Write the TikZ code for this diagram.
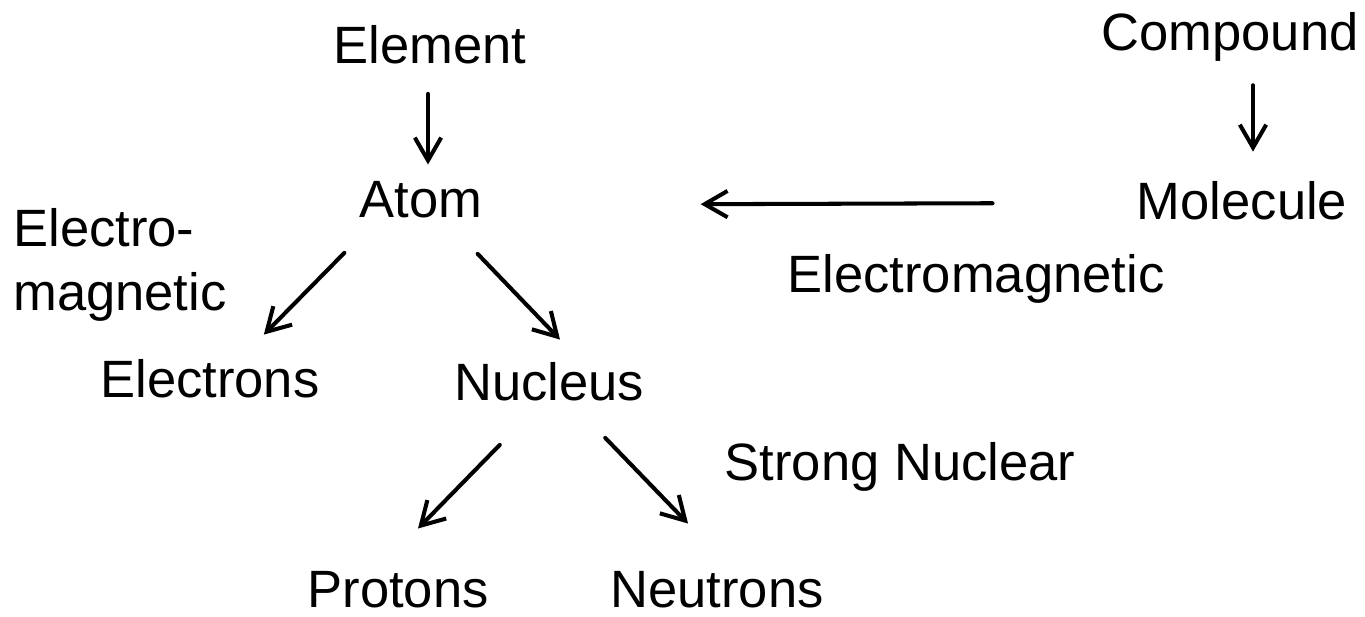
\documentclass[tikz,border=0pt]{standalone}
\usepackage{fontspec}
\setmainfont{Liberation Sans}
\usetikzlibrary{arrows.meta}

\begin{document}
\begin{tikzpicture}[x=0.02cm, y=-0.02cm,
    word/.style={inner sep=0pt, anchor=base, font=\fontsize{29.9}{36}\selectfont},
    arr/.style={-{Straight Barb[length=13pt,width=15pt]}, line width=2.3pt, line cap=round}]
  \useasboundingbox (0,0) rectangle (1365,616);
  % top row
  \node[word] (element) at (430,63) {Element};
  \node[word] (compound) at (1230,50) {Compound};
  \node[word] (atom) at (421,217) {Atom};
  \node[word] (molecule) at (1242,219) {Molecule};
  % forces
  \node[word, anchor=base west, align=left] (electro) at (13,310) {Electro-\\magnetic};
  \node[word] (emag) at (976,292) {Electromagnetic};
  \node[word] (strong) at (900,480) {Strong Nuclear};
  % parts
  \node[word] (electrons) at (210,397) {Electrons};
  \node[word] (nucleus) at (549,400) {Nucleus};
  \node[word] (protons) at (398,607) {Protons};
  \node[word] (neutrons) at (717,607) {Neutrons};
  % arrows
  \draw[arr] ([shift={(-2,30)}]element.south) -- ([shift={(7,-16)}]atom.north);
  \draw[arr] ([shift={(23,24)}]compound.south) -- ([shift={(11,-29)}]molecule.north);
  \draw[arr] ([shift={(-144,3)}]molecule.west) -- ([shift={(218,5)}]atom.east);
  \draw[arr] ([shift={(-15,35)}]atom.south west) -- ([shift={(-56,-24)}]electrons.north east);
  \draw[arr] ([shift={(-5,36)}]atom.south east) -- ([shift={(11,-22)}]nucleus.north);
  \draw[arr] ([shift={(46,44)}]nucleus.south west) -- ([shift={(20,-42)}]protons.north);
  \draw[arr] ([shift={(-39,37)}]nucleus.south east) -- ([shift={(-29,-47)}]neutrons.north);
\end{tikzpicture}
\end{document}
